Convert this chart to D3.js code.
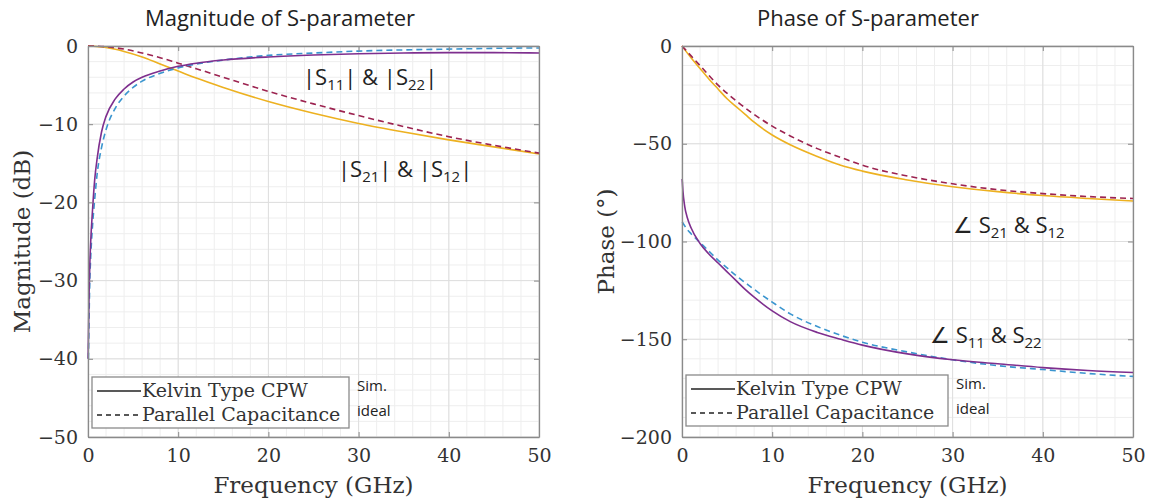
<!DOCTYPE html>
<html>
<head>
<meta charset="utf-8">
<script src="https://cdn.jsdelivr.net/npm/d3@7"></script>
<style>
  body { margin: 0; background: #fff; }
  svg { display: block; }
</style>
</head>
<body>
<div id="chart"></div>
<script>
// ---- data ----
const magS21Kelvin = [[0,0],[2,-0.2],[4,-0.7],[6,-1.4],[8,-2.3],[10,-3.2],[12,-4.1],[15,-5.3],[20,-7.1],[25,-8.6],[30,-9.9],[35,-11.0],[40,-12.0],[45,-12.9],[50,-13.8]];
const magS21Ideal = [[0,0],[2,-0.1],[4,-0.4],[6,-0.9],[8,-1.5],[10,-2.2],[12,-2.9],[15,-4.0],[20,-5.8],[25,-7.4],[30,-8.9],[35,-10.3],[40,-11.6],[45,-12.7],[50,-13.7]];
const magS11Kelvin = [[0.02,-40],[0.1,-33],[0.2,-28],[0.3,-25],[0.5,-21],[0.75,-17],[1,-14.5],[1.5,-11],[2,-9],[3,-6.8],[4,-5.5],[5,-4.6],[6,-4.0],[8,-3.2],[10,-2.6],[12,-2.2],[15,-1.8],[20,-1.4],[25,-1.15],[30,-1.0],[35,-0.9],[40,-0.85],[45,-0.85],[50,-0.9]];
const magS11Ideal = [[0.05,-40],[0.1,-36],[0.2,-30],[0.3,-27],[0.5,-23],[0.75,-19.5],[1,-16.5],[1.5,-13],[2,-10.7],[3,-8],[4,-6.4],[5,-5.3],[6,-4.5],[8,-3.5],[10,-2.8],[12,-2.3],[15,-1.8],[20,-1.2],[25,-0.9],[30,-0.65],[35,-0.5],[40,-0.4],[45,-0.3],[50,-0.25]];

const phS21Kelvin = [[0,0],[1,-6],[2,-11.5],[3,-17],[4,-22],[5,-27],[6,-31],[7,-35],[8,-39],[10,-45.5],[12,-50.5],[15,-56.5],[17.6,-61],[20,-64],[25,-68.5],[30,-72],[35,-74.5],[40,-76.5],[45,-78],[50,-79.3]];
const phS21Ideal = [[0,0],[2,-10],[4,-20],[6,-28],[8,-35],[10,-41],[12,-46],[15,-52.5],[17.6,-57],[20,-61],[25,-66.5],[30,-70.5],[35,-73.5],[40,-75.5],[45,-77],[50,-78]];
const phS11Kelvin = [[0.02,-68],[0.1,-74],[0.3,-82],[0.6,-88],[1,-93],[2,-101],[3,-106.5],[4,-111],[5,-115.5],[6,-120],[7,-124.5],[8,-128.5],[10,-135.5],[12,-141],[15,-146.5],[17.6,-150],[20,-153],[25,-157.5],[30,-160.5],[35,-162.5],[40,-164.5],[45,-166],[50,-167]];
const phS11Ideal = [[0.02,-90],[0.3,-92],[0.6,-94],[1,-96],[2,-100.5],[3,-105],[4,-109.5],[5,-113.5],[6,-117.5],[7,-121],[8,-124.5],[10,-131],[12,-137],[15,-143.5],[17.6,-148],[20,-151.5],[25,-156.5],[30,-160.5],[35,-163.5],[40,-165.5],[45,-167.5],[50,-169]];

const freqTicks = [0, 10, 20, 30, 40, 50];
const magTicks = [0, -10, -20, -30, -40, -50];
const phaseTicks = [0, -50, -100, -150, -200];
const legendLabels = ["Kelvin Type CPW", "Parallel Capacitance"];
const legendNotes = ["Sim.", "ideal"];

const colors = { s11: "#7e2f8e", s11d: "#3a95cf", s21: "#edb120", s21d: "#9c2350" };

const W = 1151, H = 500;
const svg = d3.select("#chart").append("svg").attr("width", W).attr("height", H);

const serif = "'DejaVu Serif', 'Liberation Serif', serif";
const sans = "'Open Sans', 'Noto Sans', sans-serif";

function panel(opt) {
  const x = d3.scaleLinear().domain([0, 50]).range([opt.left, opt.right]);
  const y = d3.scaleLinear().domain(opt.ydomain).range([opt.bottom, opt.top]);
  const g = svg.append("g");

  // minor grid
  const xMinor = d3.range(0, 50.01, 2);
  const yMinor = d3.range(opt.ydomain[0], opt.ydomain[1] + 0.01, opt.yminor);
  g.append("g").selectAll("line").data(xMinor).join("line")
    .attr("x1", d => x(d)).attr("x2", d => x(d))
    .attr("y1", opt.top).attr("y2", opt.bottom)
    .attr("stroke", "#eeeeee").attr("stroke-width", 1);
  g.append("g").selectAll("line").data(yMinor).join("line")
    .attr("y1", d => y(d)).attr("y2", d => y(d))
    .attr("x1", opt.left).attr("x2", opt.right)
    .attr("stroke", "#eeeeee").attr("stroke-width", 1);
  // major grid
  g.append("g").selectAll("line").data(freqTicks).join("line")
    .attr("x1", d => x(d)).attr("x2", d => x(d))
    .attr("y1", opt.top).attr("y2", opt.bottom)
    .attr("stroke", "#dedede").attr("stroke-width", 1);
  g.append("g").selectAll("line").data(opt.yticks).join("line")
    .attr("y1", d => y(d)).attr("y2", d => y(d))
    .attr("x1", opt.left).attr("x2", opt.right)
    .attr("stroke", "#dedede").attr("stroke-width", 1);

  // curves
  const line = d3.line().x(d => x(d[0])).y(d => y(d[1])).curve(d3.curveMonotoneX);
  opt.series.forEach(s => {
    g.append("path").datum(s.data)
      .attr("d", line)
      .attr("fill", "none")
      .attr("stroke", s.color)
      .attr("stroke-width", 1.6)
      .attr("stroke-dasharray", s.dash ? "6,4" : null);
  });

  // axes (box with inner ticks)
  const axStyle = a => {
    a.select(".domain").attr("stroke", "#8a8a8a").attr("stroke-width", 1.3);
    a.selectAll(".tick line").attr("stroke", "#8a8a8a");
    a.selectAll(".tick text").attr("fill", "#333").attr("font-family", serif).attr("font-size", 19);
  };
  g.append("g").attr("transform", `translate(0,${opt.bottom})`)
    .call(d3.axisBottom(x).tickValues(freqTicks).tickSizeInner(-5).tickSizeOuter(0).tickPadding(12))
    .call(axStyle);
  g.append("g").attr("transform", `translate(0,${opt.top})`)
    .call(d3.axisTop(x).tickValues(freqTicks).tickSizeInner(-5).tickSizeOuter(0).tickFormat(""))
    .call(axStyle);
  g.append("g").attr("transform", `translate(${opt.left},0)`)
    .call(d3.axisLeft(y).tickValues(opt.yticks).tickSizeInner(-5).tickSizeOuter(0).tickPadding(10))
    .call(axStyle);
  g.append("g").attr("transform", `translate(${opt.right},0)`)
    .call(d3.axisRight(y).tickValues(opt.yticks).tickSizeInner(-5).tickSizeOuter(0).tickFormat(""))
    .call(axStyle);

  // titles
  g.append("text").attr("x", opt.titleX).attr("y", 26)
    .attr("text-anchor", "middle").attr("font-family", sans).attr("font-size", 22).attr("fill", "#222")
    .text(opt.title);
  g.append("text").attr("x", (opt.left + opt.right) / 2).attr("y", 493)
    .attr("text-anchor", "middle").attr("font-family", serif).attr("font-size", 23).attr("fill", "#333")
    .text("Frequency (GHz)");
  g.append("text")
    .attr("transform", `translate(${opt.ylabelX},${(opt.top + opt.bottom) / 2}) rotate(-90)`)
    .attr("text-anchor", "middle").attr("font-family", serif).attr("font-size", 23).attr("fill", "#333")
    .text(opt.ylabel);

  // legend
  const lg = g.append("g").attr("transform", `translate(${opt.legX},${opt.legY})`);
  lg.append("rect").attr("width", opt.legW).attr("height", 51)
    .attr("fill", "#fff").attr("stroke", "#8a8a8a").attr("stroke-width", 1.3);
  legendLabels.forEach((t, i) => {
    const yy = 14 + i * 24;
    lg.append("line").attr("x1", 5).attr("x2", 49).attr("y1", yy).attr("y2", yy)
      .attr("stroke", "#222").attr("stroke-width", 1.4)
      .attr("stroke-dasharray", i ? "5,4" : null);
    lg.append("text").attr("x", 50).attr("y", yy + 6)
      .attr("font-family", serif).attr("font-size", 19).attr("fill", "#333").text(t);
  });
  legendNotes.forEach((t, i) => {
    g.append("text").attr("x", opt.legX + opt.legW + 8).attr("y", opt.legY + 14 + i * 25)
      .attr("font-family", sans).attr("font-size", 15).attr("fill", "#222").text(t);
  });

  // annotations
  opt.notes.forEach(n => {
    const t = g.append("text").attr("x", n.x).attr("y", n.y)
      .attr("font-family", sans).attr("font-size", 22).attr("fill", "#222");
    n.parts.forEach(p => {
      t.append("tspan").attr("font-size", p.sub ? 15 : 22)
        .attr("dy", p.sub ? 5 : (p.back ? -5 : 0)).text(p.t);
    });
  });
}

panel({
  left: 88, right: 539, top: 46, bottom: 437,
  ydomain: [-50, 0], yticks: magTicks, yminor: 2,
  title: "Magnitude of S-parameter", titleX: 280,
  ylabel: "Magnitude (dB)", ylabelX: 30,
  legX: 92, legY: 377, legW: 257,
  series: [
    { data: magS21Kelvin, color: colors.s21 },
    { data: magS21Ideal, color: colors.s21d, dash: true },
    { data: magS11Ideal, color: colors.s11d, dash: true },
    { data: magS11Kelvin, color: colors.s11 }
  ],
  notes: [
    { x: 303, y: 85, parts: [{ t: "|S" }, { t: "11", sub: true }, { t: "| & |S", back: true }, { t: "22", sub: true }, { t: "|", back: true }] },
    { x: 338, y: 177, parts: [{ t: "|S" }, { t: "21", sub: true }, { t: "| & |S", back: true }, { t: "12", sub: true }, { t: "|", back: true }] }
  ]
});

panel({
  left: 682, right: 1133, top: 46, bottom: 437,
  ydomain: [-200, 0], yticks: phaseTicks, yminor: 10,
  title: "Phase of S-parameter", titleX: 868,
  ylabel: "Phase (°)", ylabelX: 614,
  legX: 686, legY: 375, legW: 262,
  series: [
    { data: phS21Kelvin, color: colors.s21 },
    { data: phS21Ideal, color: colors.s21d, dash: true },
    { data: phS11Ideal, color: colors.s11d, dash: true },
    { data: phS11Kelvin, color: colors.s11 }
  ],
  notes: [
    { x: 953, y: 233, parts: [{ t: "∠ S" }, { t: "21", sub: true }, { t: " & S", back: true }, { t: "12", sub: true }] },
    { x: 930, y: 343, parts: [{ t: "∠ S" }, { t: "11", sub: true }, { t: " & S", back: true }, { t: "22", sub: true }] }
  ]
});
</script>
</body>
</html>
